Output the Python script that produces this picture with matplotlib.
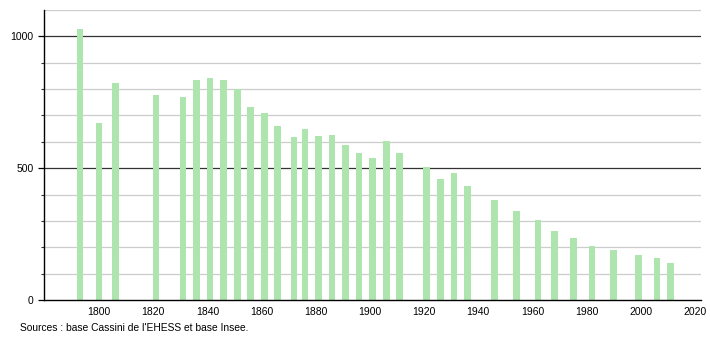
import matplotlib
matplotlib.use('Agg')
import matplotlib.pyplot as plt

# population census years and values
years = [1793, 1800, 1806, 1821, 1831, 1836, 1841, 1846, 1851, 1856, 1861, 1866,
         1872, 1876, 1881, 1886, 1891, 1896, 1901, 1906, 1911, 1921, 1926, 1931,
         1936, 1946, 1954, 1962, 1968, 1975, 1982, 1990, 1999, 2006, 2011]
population = [1027, 672, 825, 777, 771, 834, 841, 834, 800, 733, 708, 661,
              617, 647, 621, 627, 589, 558, 537, 604, 558, 505, 460, 480,
              434, 381, 339, 305, 261, 236, 206, 188, 170, 160, 140]

xticks = [1800, 1820, 1840, 1860, 1880, 1900, 1920, 1940, 1960, 1980, 2000, 2020]
yticks = [0, 500, 1000]

plt.rcParams['font.family'] = ['Liberation Sans', 'DejaVu Sans']

fig = plt.figure(figsize=(7.1, 3.4), dpi=100)
ax = fig.add_axes([44/710, 40/340, 657/710, 290/340])

# grid lines every 100, darker every 500
for v in range(100, 1101, 100):
    if v % 500 == 0:
        ax.axhline(v, color='#333333', lw=0.9, zorder=1)
    else:
        ax.axhline(v, color='#cccccc', lw=0.9, zorder=1)

ax.bar(years, population, width=2.5, color='#aee4ae', zorder=2)

ax.set_xlim(1779.7, 2022.2)
ax.set_ylim(0, 1100)
ax.set_xticks(xticks)
ax.set_yticks(yticks)
ax.set_yticks(range(100, 1100, 100), minor=True)
ax.tick_params(axis='x', length=0, labelsize=7.5, pad=5)
ax.tick_params(axis='y', which='major', length=4, width=0.9, labelsize=7.5)
ax.tick_params(axis='y', which='minor', length=2, width=0.8, color='#333333')

for s in ['top', 'right']:
    ax.spines[s].set_visible(False)
ax.spines['left'].set_linewidth(1)
ax.spines['bottom'].set_linewidth(1)

fig.text(20/710, 1 - 328/340, "Sources : base Cassini de l'EHESS et base Insee.",
         fontsize=7.4, va='center', ha='left')

fig.savefig('out.png', dpi=100)
